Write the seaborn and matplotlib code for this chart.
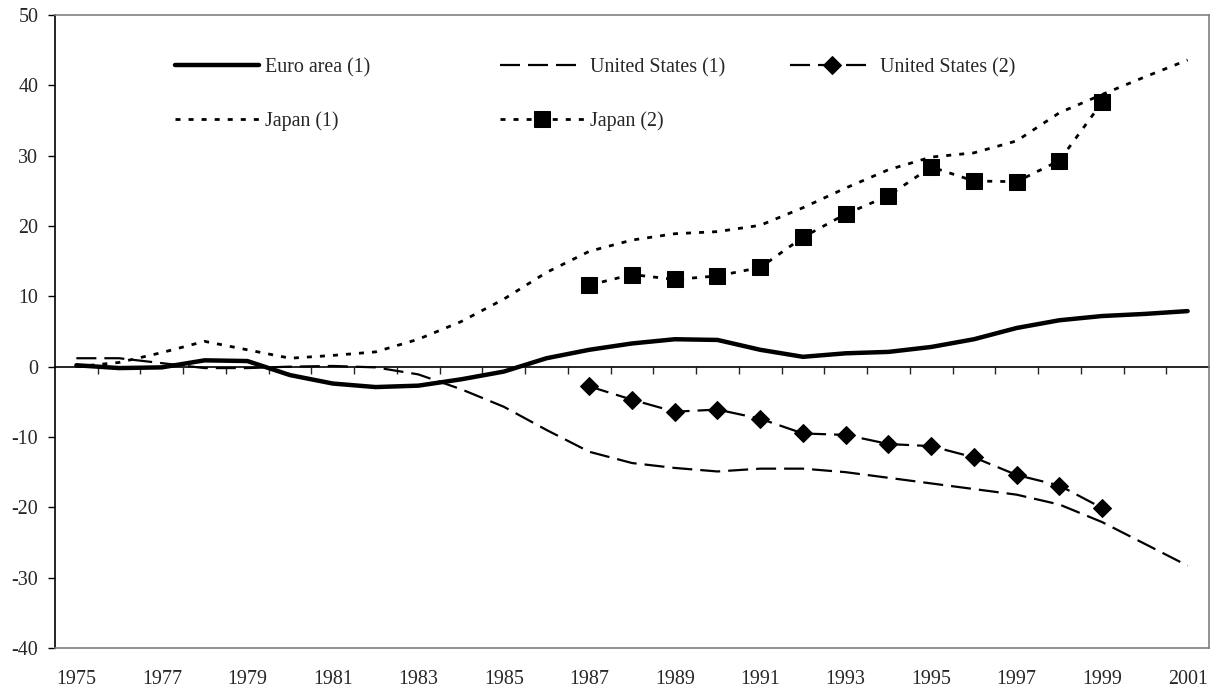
import matplotlib
matplotlib.use('Agg')
import matplotlib.pyplot as plt
import seaborn as sns

# valeurs
years = list(range(1975, 2002))
euro_1 = [0.2, -0.2, -0.1, 0.9, 0.8, -1.2, -2.4, -2.9, -2.7, -1.8, -0.7, 1.2, 2.4, 3.3,
          3.9, 3.8, 2.4, 1.4, 1.9, 2.1, 2.8, 3.9, 5.5, 6.6, 7.2, 7.5, 7.9]
us_1 = [1.2, 1.2, 0.5, -0.2, -0.2, 0.0, 0.1, -0.1, -1.1, -3.2, -5.7, -9.0, -12.1, -13.7,
        -14.4, -14.9, -14.5, -14.5, -15.0, -15.8, -16.6, -17.4, -18.2, -19.6, -22.1, -25.2, -28.3]
japan_1 = [0.0, 0.6, 2.0, 3.6, 2.4, 1.2, 1.6, 2.1, 3.9, 6.4, 9.6, 13.4, 16.4, 18.0,
           18.9, 19.2, 20.1, 22.6, 25.4, 28.0, 29.8, 30.4, 32.1, 36.1, 38.7, 41.2, 43.6]
years_2 = list(range(1987, 2000))
us_2 = [-2.8, -4.7, -6.4, -6.1, -7.4, -9.5, -9.7, -11.0, -11.3, -12.9, -15.4, -16.9, -20.1]
japan_2 = [11.6, 13.1, 12.4, 12.9, 14.1, 18.4, 21.7, 24.3, 28.4, 26.4, 26.3, 29.3, 37.6]

sns.set_style('white')
plt.rcParams['font.family'] = ['Liberation Serif', 'DejaVu Serif']
plt.rcParams['axes.unicode_minus'] = False
fs = 14.4

fig = plt.figure(figsize=(12.18, 6.93), dpi=100)
ax = fig.add_axes([55 / 1218, 1 - 648 / 693, (1209 - 55) / 1218, (648 - 15) / 693])

long_dash = (0, (9, 3.6))
dot = (0, (1.8, 2.9))

sns.lineplot(x=years, y=euro_1, ax=ax, color='black', linewidth=3.2, label='Euro area (1)')
sns.lineplot(x=years, y=us_1, ax=ax, color='black', linewidth=1.6, linestyle=long_dash,
             label='United States (1)')
sns.lineplot(x=years_2, y=us_2, ax=ax, color='black', linewidth=1.6, linestyle=long_dash,
             marker='D', markersize=9, markeredgecolor='black', label='United States (2)')
sns.lineplot(x=years, y=japan_1, ax=ax, color='black', linewidth=2.0, linestyle=dot,
             label='Japan (1)')
sns.lineplot(x=years_2, y=japan_2, ax=ax, color='black', linewidth=2.0, linestyle=dot,
             marker='s', markersize=11, markeredgecolor='black', label='Japan (2)')

ax.set_xlim(years[0] - 0.5, years[-1] + 0.5)
ax.set_ylim(-40, 50)
ax.set_yticks(range(-40, 51, 10))
ax.set_xticks(years[::2])
ax.tick_params(axis='x', length=0, pad=16, labelsize=fs)
ax.tick_params(axis='y', direction='out', length=5, width=1, color='black', pad=7,
               labelsize=fs, left=True)
ax.grid(False)

for side in ['top', 'right', 'bottom']:
    ax.spines[side].set_color('#808080')
    ax.spines[side].set_linewidth(1.2)
ax.spines['left'].set_color('black')
ax.spines['left'].set_linewidth(1.2)

# axe des catégories au niveau zéro, avec graduations entre les années
zero_axis = ax.secondary_xaxis(40 / 90)
zero_axis.set_xticks([y + 0.5 for y in years[:-1]])
zero_axis.tick_params(direction='out', length=5, width=1, labelbottom=False)
zero_axis.spines['bottom'].set_color('black')
zero_axis.spines['bottom'].set_linewidth(1.2)

# légende en trois colonnes, comme dans Excel
handles, labels = ax.get_legend_handles_labels()
ax.get_legend().remove()
columns = [([0, 3], 175), ([1, 4], 500), ([2], 790)]
legends = []
for idx, x0 in columns:
    leg = ax.legend([handles[i] for i in idx], [labels[i] for i in idx],
                    loc='upper left', bbox_to_anchor=(x0 / 1218, 1 - 58 / 693),
                    bbox_transform=fig.transFigure, frameon=False, fontsize=fs,
                    handlelength=4.2, handletextpad=0.3, labelspacing=1.7,
                    borderpad=0, borderaxespad=0)
    legends.append(leg)
for leg in legends[:-1]:
    ax.add_artist(leg)

fig.savefig('out.png', dpi=100)
